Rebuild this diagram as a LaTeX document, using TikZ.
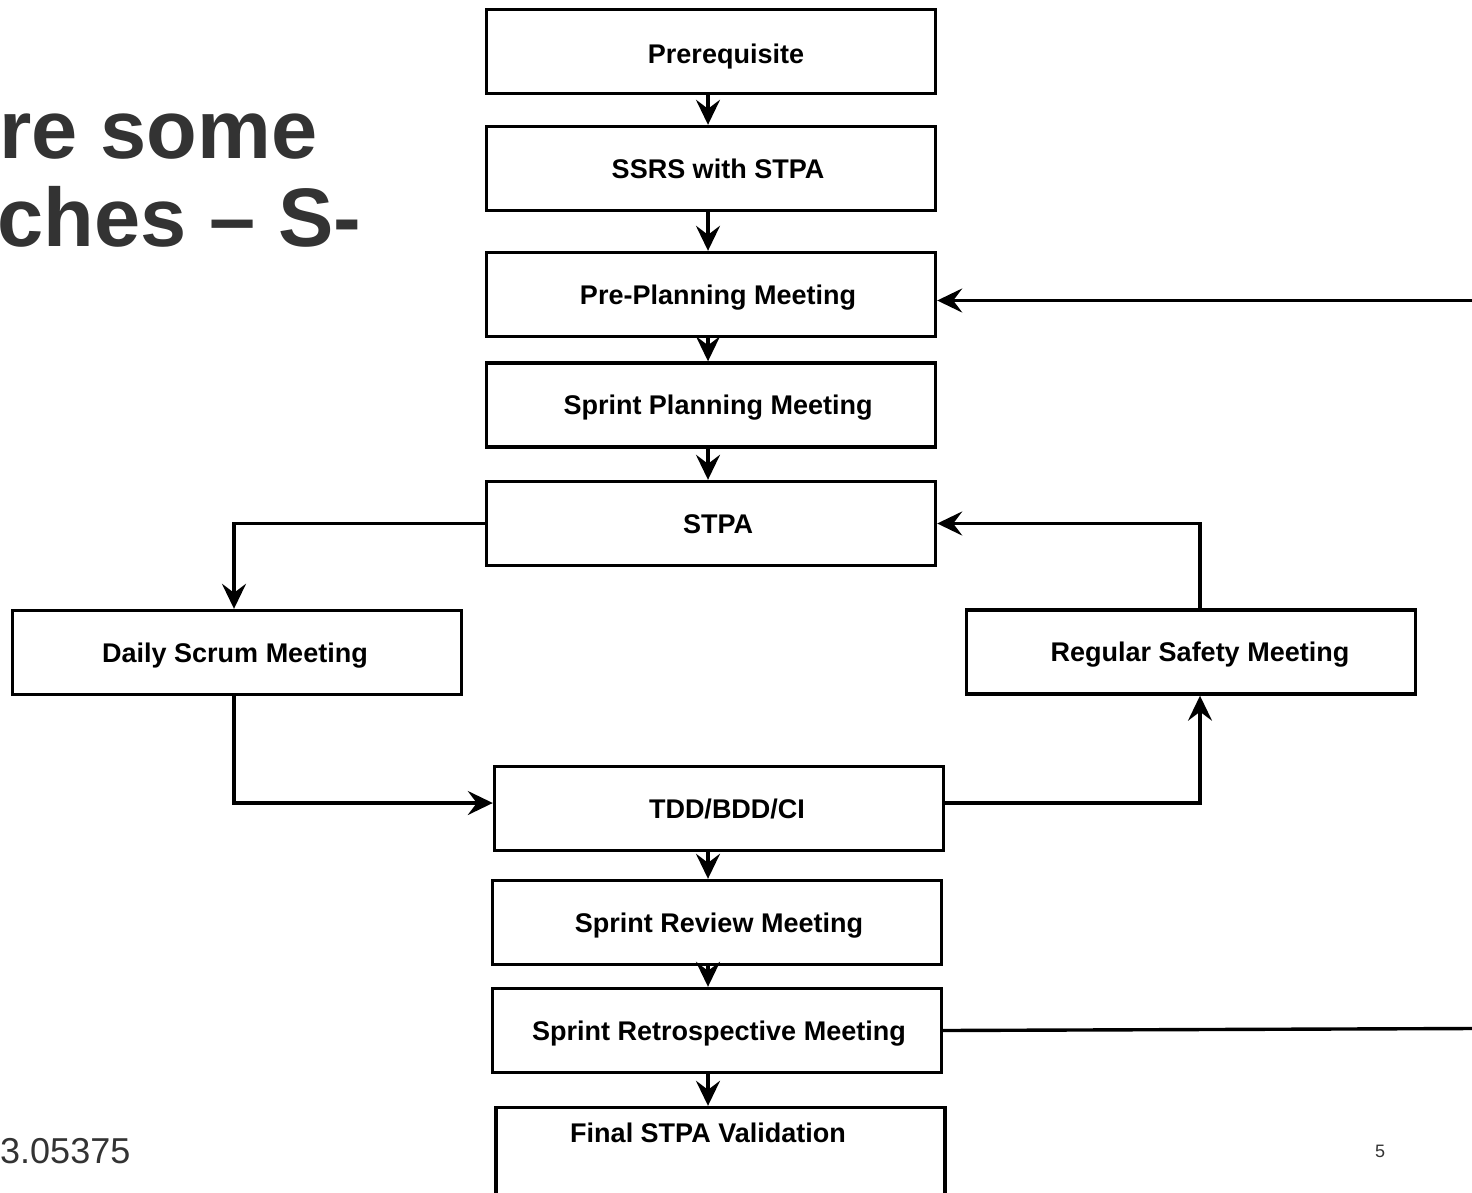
\documentclass[tikz,border=0pt]{standalone}
\usepackage{fontspec}
\setmainfont{Liberation Sans}
\usetikzlibrary{arrows.meta}
\definecolor{headgray}{HTML}{333333}
\begin{document}
\begin{tikzpicture}[x=1pt,y=-1pt,
  box/.style={draw, line width=3.4pt, minimum width=449pt, minimum height=84pt, inner sep=0pt},
  lbl/.style={font=\bfseries\fontsize{27}{32}\selectfont, inner sep=0pt, text height=19pt, text depth=0pt},
  arr/.style={line width=3.4pt, -{Stealth[length=25pt,width=24pt,inset=9pt]}},
  link/.style={line width=3.4pt},
  headline/.style={font=\bfseries\fontsize{83}{90}\selectfont, text=headgray, inner sep=0pt, anchor=base west},
  foot/.style={text=headgray, inner sep=0pt}]
\useasboundingbox (0,0) rectangle (1472,1192);
\clip (0,0) rectangle (1472,1192);

% slide heading, cut at the left edge
\node[headline] (h1) at (-1,158) {re some};
\node[headline] (h2) at (-3,246) {ches -- S-};
\node[foot, font=\fontsize{36}{40}\selectfont, anchor=base west] (ref) at (0,1163) {3.05375};
\node[foot, font=\fontsize{18}{20}\selectfont, anchor=base] (pg) at (1380,1157) {5};

% process steps
\node[box, label={[lbl, xshift=15pt, yshift=-2.5pt]center:Prerequisite}] (pre) at (711,51.5) {};
\node[box, label={[lbl, xshift=7pt]center:SSRS with STPA}] (ssrs) at (711,168.5) {};
\node[box, label={[lbl, xshift=7pt]center:Pre-Planning Meeting}] (prep) at (711,294.5) {};
\node[box, label={[lbl, xshift=7pt]center:Sprint Planning Meeting}] (spp) at (711,405) {};
\node[box, label={[lbl, xshift=7pt]center:STPA}] (stpa) at (711,523.5) {};
\node[box, label={[lbl, xshift=-2pt]center:Daily Scrum Meeting}] (daily) at (237,652.5) {};
\node[box, label={[lbl, xshift=9pt]center:Regular Safety Meeting}] (safety) at (1191,652) {};
\node[box, label={[lbl, xshift=8pt]center:TDD/BDD/CI}] (tdd) at (719,808.5) {};
\node[box, label={[lbl, xshift=2pt]center:Sprint Review Meeting}] (review) at (717,922.5) {};
\node[box, label={[lbl, xshift=2pt]center:Sprint Retrospective Meeting}] (retro) at (717,1030.5) {};
\node[box, minimum height=110pt, label={[lbl, xshift=-12.5pt, yshift=29.5pt]center:Final STPA Validation}] (final) at (720.5,1162.5) {};

% main axis of the flow
\coordinate (axis) at (708,0);
\draw[arr] (pre.south -| axis) -- (ssrs.north -| axis);
\draw[arr] (ssrs.south -| axis) -- (prep.north -| axis);
\draw[arr] (prep.south -| axis) -- (spp.north -| axis);
\draw[arr] (spp.south -| axis) -- (stpa.north -| axis);
\draw[arr] (tdd.south -| axis) -- (review.north -| axis);
\draw[arr] (review.south -| axis) -- (retro.north -| axis);
\draw[arr] (retro.south -| axis) -- (final.north -| axis);

% sprint loop
\coordinate (lcol) at (234,0);
\coordinate (rcol) at (1200,0);
\coordinate (mid) at (0,803);
\draw[arr] (stpa.west) -| (daily.north -| lcol);
\draw[arr] (daily.south -| lcol) |- (tdd.west |- mid);
\draw[arr] (tdd.east |- mid) -| (safety.south -| rcol);
\draw[arr] (safety.north -| rcol) |- (stpa.east);

% return path to the next sprint
\coordinate (inR) at (1472,300.5);
\coordinate (outR) at (1472,1028.5);
\draw[arr] (inR) -- (inR -| prep.east);
\draw[link] (retro.east) -- (outR);
\end{tikzpicture}
\end{document}
